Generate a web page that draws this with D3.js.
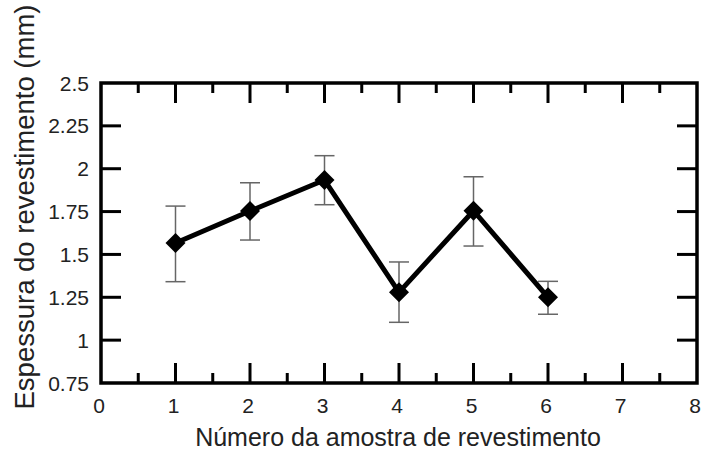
<!DOCTYPE html>
<html><head><meta charset="utf-8">
<script src="https://cdn.jsdelivr.net/npm/d3@7"></script>
<style>body{margin:0;background:#fff}svg{display:block}text{font-family:"Liberation Sans",Arial,sans-serif;fill:#222}</style>
</head><body><svg id="c" width="702" height="453"></svg>
<script>
const samples = [1, 2, 3, 4, 5, 6];
const thickness = [1.567, 1.753, 1.934, 1.279, 1.755, 1.250];
const errUpper = [1.782, 1.918, 2.076, 1.456, 1.953, 1.343];
const errLower = [1.341, 1.584, 1.790, 1.104, 1.549, 1.151];
const xTicks = [0, 1, 2, 3, 4, 5, 6, 7, 8];
const xMinor = [0.5, 1.5, 2.5, 3.5, 4.5, 5.5, 6.5, 7.5];
const yTicks = [0.75, 1, 1.25, 1.5, 1.75, 2, 2.25, 2.5];
const yTickLabels = ["0.75", "1", "1.25", "1.5", "1.75", "2", "2.25", "2.5"];

const svg = d3.select("#c");
const L = 101, R = 697, T = 83, B = 383;
const x = d3.scaleLinear().domain([0, 8]).range([L, R]);
const y = d3.scaleLinear().domain([0.75, 2.5]).range([B, T]);

const g = svg.append("g");
const tickStyle = s => s.attr("stroke", "#000").attr("stroke-width", 3);
xTicks.slice(1, -1).forEach(v => {
  tickStyle(g.append("line").attr("x1", x(v)).attr("x2", x(v)).attr("y1", B).attr("y2", B - 20));
  tickStyle(g.append("line").attr("x1", x(v)).attr("x2", x(v)).attr("y1", T).attr("y2", T + 20));
});
xMinor.forEach(v => {
  tickStyle(g.append("line").attr("x1", x(v)).attr("x2", x(v)).attr("y1", B).attr("y2", B - 10));
  tickStyle(g.append("line").attr("x1", x(v)).attr("x2", x(v)).attr("y1", T).attr("y2", T + 10));
});
yTicks.slice(1, -1).forEach(v => {
  tickStyle(g.append("line").attr("x1", L).attr("x2", L + 20).attr("y1", y(v)).attr("y2", y(v)));
  tickStyle(g.append("line").attr("x1", R).attr("x2", R - 20).attr("y1", y(v)).attr("y2", y(v)));
});
g.append("rect").attr("x", L).attr("y", T).attr("width", R - L).attr("height", B - T)
  .attr("fill", "none").attr("stroke", "#000").attr("stroke-width", 3.5);

xTicks.forEach(v => g.append("text").attr("x", x(v) - 2).attr("y", 413).attr("text-anchor", "middle")
  .attr("font-size", 21).text(v));
yTicks.forEach((v, i) => g.append("text").attr("x", 89).attr("y", y(v) + 7.5).attr("text-anchor", "end")
  .attr("font-size", 21).text(yTickLabels[i]));

svg.append("text").attr("x", 398).attr("y", 446).attr("text-anchor", "middle").attr("font-size", 25)
  .text("Número da amostra de revestimento");
svg.append("text").attr("transform", "translate(34,207) rotate(-90)").attr("text-anchor", "middle")
  .attr("font-size", 27.5).text("Espessura do revestimento (mm)");

const eb = svg.append("g").attr("stroke", "#666").attr("stroke-width", 1.5);
samples.forEach((s, i) => {
  eb.append("line").attr("x1", x(s)).attr("x2", x(s)).attr("y1", y(errUpper[i])).attr("y2", y(errLower[i]));
  eb.append("line").attr("x1", x(s) - 10).attr("x2", x(s) + 10).attr("y1", y(errUpper[i])).attr("y2", y(errUpper[i]));
  eb.append("line").attr("x1", x(s) - 10).attr("x2", x(s) + 10).attr("y1", y(errLower[i])).attr("y2", y(errLower[i]));
});

const line = d3.line().x((d, i) => x(samples[i])).y(d => y(d));
svg.append("path").datum(thickness).attr("d", line).attr("fill", "none")
  .attr("stroke", "#000").attr("stroke-width", 5).attr("stroke-linejoin", "miter");

svg.selectAll("path.m").data(thickness).enter().append("path").attr("class", "m")
  .attr("d", "M0,-10L10,0L0,10L-10,0Z")
  .attr("transform", (d, i) => `translate(${x(samples[i])},${y(d)})`)
  .attr("fill", "#000");
</script></body></html>
